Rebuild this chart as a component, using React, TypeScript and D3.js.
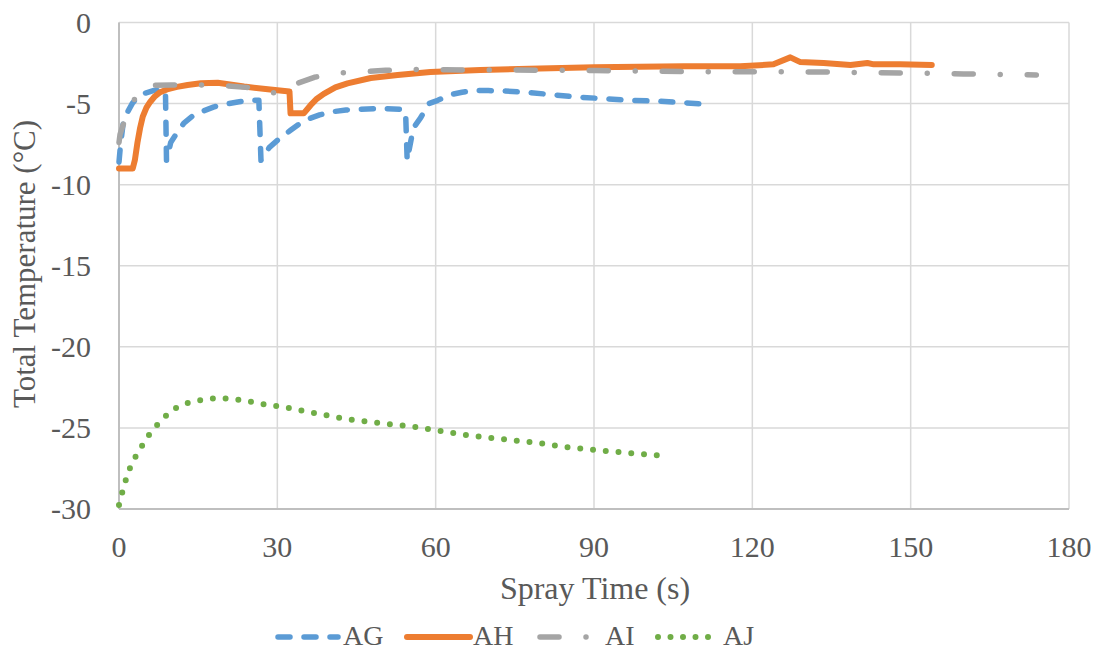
import React from "react";
import * as d3 from "d3";

type Pt = [number, number];

const AG: Pt[] = [[0,-8.6],[0.3,-7.5],[0.8,-6.2],[1.5,-5.6],[2.5,-5.0],[3.5,-4.6],[5,-4.35],[6.5,-4.2],[8.8,-4.2],[9.0,-8.5],[9.8,-7.4],[11,-6.8],[12.3,-6.2],[14.2,-5.7],[16,-5.45],[18,-5.2],[20,-5.05],[22.5,-4.9],[24.5,-4.8],[26.5,-4.8],[26.9,-8.5],[28.5,-7.7],[30.6,-7.1],[32.5,-6.65],[34.4,-6.2],[36.3,-5.9],[38,-5.7],[40.5,-5.5],[43,-5.4],[45.5,-5.35],[50,-5.3],[53.5,-5.35],[54.3,-5.5],[54.6,-8.5],[55.3,-7.3],[55.8,-6.5],[57.2,-5.85],[58.7,-5.0],[60.4,-4.8],[62.8,-4.45],[65,-4.3],[67,-4.2],[70,-4.2],[73,-4.22],[77,-4.3],[82,-4.45],[87,-4.6],[92,-4.7],[97,-4.8],[102,-4.85],[107,-4.95],[111.7,-5.05]];

const AH: Pt[] = [[0,-9.0],[2.6,-9.0],[3.0,-8.5],[3.5,-7.4],[4.0,-6.5],[4.5,-5.8],[5.2,-5.25],[5.9,-4.9],[6.8,-4.55],[7.8,-4.3],[9.3,-4.1],[11,-3.97],[13,-3.85],[15.5,-3.75],[18.7,-3.72],[23.7,-3.95],[28.2,-4.12],[32.3,-4.25],[32.5,-5.6],[35,-5.6],[36.3,-5.1],[37.5,-4.7],[38.8,-4.4],[41,-4.0],[43.3,-3.75],[47.7,-3.42],[52.8,-3.24],[59,-3.05],[68.5,-2.93],[81.8,-2.82],[90,-2.76],[107,-2.7],[117.7,-2.7],[124,-2.58],[127.2,-2.15],[129,-2.43],[133.5,-2.5],[138.6,-2.62],[141.8,-2.5],[143,-2.58],[148,-2.58],[154,-2.62]];

const AI: Pt[] = [[0,-7.4],[0.2,-6.9],[1.2,-5.9],[2.8,-4.8],[4.5,-4.1],[6,-3.88],[10,-3.85],[15,-3.85],[20,-3.9],[24,-4.0],[27,-4.1],[29,-4.35],[30.7,-4.2],[33,-3.85],[37,-3.38],[41.6,-3.12],[45.8,-3.05],[50.5,-2.95],[55,-2.9],[62,-2.92],[75,-2.93],[90,-2.96],[100,-3.0],[110,-3.03],[120,-3.03],[135,-3.06],[150,-3.12],[160,-3.17],[173.8,-3.23]];

const AJ: Pt[] = [[0,-29.75],[0.6,-29.0],[1.2,-28.3],[1.9,-27.6],[2.9,-26.9],[4,-26.3],[5.1,-25.7],[6.4,-25.1],[7.9,-24.6],[9.5,-24.05],[11.4,-23.65],[13.6,-23.4],[16.1,-23.25],[18.6,-23.15],[21.2,-23.2],[23.5,-23.3],[26,-23.45],[28.5,-23.6],[31,-23.7],[33.4,-23.85],[35.8,-24.0],[38.1,-24.15],[40.6,-24.3],[43,-24.45],[45.5,-24.55],[50.5,-24.75],[55.5,-24.9],[60,-25.15],[65,-25.4],[70,-25.6],[75,-25.78],[80,-25.95],[85,-26.2],[90,-26.35],[95,-26.5],[102.2,-26.7]];

const xTicks = [0, 30, 60, 90, 120, 150, 180];
const yTicks = [0, -5, -10, -15, -20, -25, -30];
const seriesNames = ["AG", "AH", "AI", "AJ"];

const FONT = "Liberation Serif, Times New Roman, Times, serif";
const TXT = "#595959";

const styles: Record<string, { color: string; dash: string | null }> = {
  AG: { color: "#5B9BD5", dash: "12,14" },
  AH: { color: "#ED7D31", dash: null },
  AI: { color: "#A5A5A5", dash: "19,27,0,27" },
  AJ: { color: "#70AD47", dash: "0,12.8" },
};

export default function App() {
  const W = 1102, H = 652;
  const left = 119, right = 1069, top = 22.5, bottom = 509;
  const x = d3.scaleLinear().domain([0, 180]).range([left, right]);
  const y = d3.scaleLinear().domain([-30, 0]).range([bottom, top]);
  const line = d3.line<Pt>().x(d => x(d[0])).y(d => y(d[1])).curve(d3.curveLinear);
  const data: Record<string, Pt[]> = { AG, AH, AI, AJ };

  const legendX: Record<string, [number, number]> = {
    AG: [275, 343], AH: [407, 473], AI: [537, 605], AJ: [658, 723],
  };
  const txtStyle = { fontFamily: FONT };

  return (
    <svg width={W} height={H} style={{ position: "absolute", left: 0, top: 0 }}>
      <rect width={W} height={H} fill="#fff" />
      {yTicks.map(t => (
        <line key={"gy" + t} x1={left} x2={right} y1={y(t)} y2={y(t)} stroke="#d9d9d9" strokeWidth={1.5} />
      ))}
      {xTicks.map(t => (
        <line key={"gx" + t} x1={x(t)} x2={x(t)} y1={top} y2={bottom} stroke="#d9d9d9" strokeWidth={1.5} />
      ))}
      <line x1={left} x2={left} y1={top} y2={bottom} stroke="#bfbfbf" strokeWidth={2} />
      <line x1={left} x2={right} y1={bottom} y2={bottom} stroke="#bfbfbf" strokeWidth={2} />

      {seriesNames.map(n => (
        <path key={n} d={line(data[n]) || ""} fill="none" stroke={styles[n].color}
          strokeWidth={n === "AH" ? 6 : n === "AJ" ? 6 : 5.5} strokeLinecap="round" strokeLinejoin="round"
          strokeDasharray={styles[n].dash || undefined} />
      ))}

      {yTicks.map(t => (
        <text key={"ty" + t} x={91} y={y(t) + 10} textAnchor="end" style={txtStyle} fontSize={30} fill={TXT}>{t}</text>
      ))}
      {xTicks.map(t => (
        <text key={"tx" + t} x={x(t)} y={557} textAnchor="middle" style={txtStyle} fontSize={30} fill={TXT}>{t}</text>
      ))}
      <text x={595} y={599} textAnchor="middle" style={txtStyle} fontSize={32} fill={TXT}>Spray Time (s)</text>
      <text transform="translate(35,264) rotate(-90)" textAnchor="middle" style={txtStyle} fontSize={31} fill={TXT}>Total Temperature (°C)</text>

      {seriesNames.map(n => {
        const [lx, tx] = legendX[n];
        const s = styles[n];
        const x2 = n === "AJ" ? 709 : lx + 63;
        return (
          <g key={"lg" + n}>
            <line x1={n === "AG" || n === "AI" ? lx + 3 : lx} x2={x2} y1={637} y2={637}
              stroke={s.color} strokeWidth={n === "AH" || n === "AJ" ? 6 : 5.5} strokeLinecap="round"
              strokeDasharray={n === "AJ" ? "0,12.5" : s.dash || undefined} />
            <text x={tx} y={645} style={txtStyle} fontSize={28} fill={TXT}>{n}</text>
          </g>
        );
      })}
    </svg>
  );
}
